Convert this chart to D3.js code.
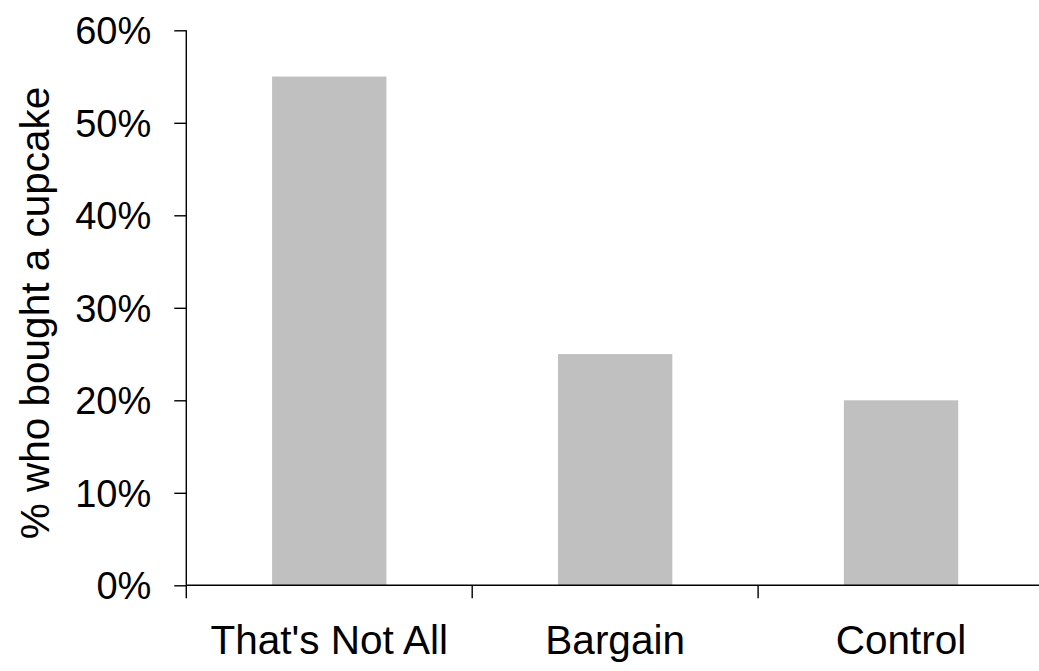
<!DOCTYPE html>
<html>
<head>
<meta charset="utf-8">
<script src="https://cdn.jsdelivr.net/npm/d3@7"></script>
<style>
  html, body { margin: 0; padding: 0; background: #fff; }
  svg { display: block; font-family: "Liberation Sans", Arial, sans-serif; }
</style>
</head>
<body>
<svg id="chart" width="1039" height="671"></svg>
<script>
// Share of shoppers buying a cupcake under each sales pitch
const conditions = ["That's Not All", "Bargain", "Control"];
const boughtShare = [0.55, 0.25, 0.20];
const yTicks = [0, 0.1, 0.2, 0.3, 0.4, 0.5, 0.6];
const yTitle = "% who bought a cupcake";

const svg = d3.select("#chart");
const W = 1039, H = 671;
const plotLeft = 186.3, plotTop = 30.3, plotBottom = 585.3, plotRight = 1044;

const x = d3.scaleBand()
  .domain(conditions)
  .range([plotLeft, plotRight])
  .paddingInner(0.6)
  .paddingOuter(0.3);

const y = d3.scaleLinear()
  .domain([0, 0.6])
  .range([plotBottom, plotTop]);

// bars
svg.append("g")
  .selectAll("rect")
  .data(conditions.map((c, i) => ({ c, v: boughtShare[i] })))
  .join("rect")
  .attr("x", d => x(d.c))
  .attr("width", x.bandwidth())
  .attr("y", d => y(d.v))
  .attr("height", d => y(0) - y(d.v))
  .attr("fill", "#c0c0c0");

// y axis
const yAxis = svg.append("g")
  .attr("transform", `translate(${plotLeft},0)`)
  .call(d3.axisLeft(y).tickValues(yTicks).tickFormat(d3.format(".0%")).tickSize(12).tickPadding(23));
yAxis.select(".domain").attr("d", `M0,${plotTop}V${plotBottom}`).attr("stroke", "#000").attr("stroke-width", 1.4);
yAxis.selectAll(".tick line").attr("stroke", "#000").attr("stroke-width", 1.4);
yAxis.selectAll(".tick text")
  .attr("fill", "#000")
  .attr("font-size", 38)
  .attr("font-family", "Liberation Sans, Arial, sans-serif")
  .attr("dy", "0.35em");

// x axis: ticks sit on category boundaries, labels centred under bars
const boundaries = d3.range(conditions.length + 1)
  .map(i => plotLeft + i * x.step());
const xAxis = svg.append("g");
xAxis.append("line")
  .attr("x1", plotLeft).attr("x2", W)
  .attr("y1", plotBottom).attr("y2", plotBottom)
  .attr("stroke", "#000").attr("stroke-width", 1.4);
xAxis.selectAll("line.tk")
  .data(boundaries)
  .join("line")
  .attr("class", "tk")
  .attr("x1", d => d).attr("x2", d => d)
  .attr("y1", plotBottom).attr("y2", plotBottom + 13)
  .attr("stroke", "#000").attr("stroke-width", 1.4);
xAxis.selectAll("text")
  .data(conditions)
  .join("text")
  .attr("x", d => x(d) + x.bandwidth() / 2)
  .attr("y", 654)
  .attr("text-anchor", "middle")
  .attr("font-size", 40.5)
  .attr("fill", "#000")
  .text(d => d);

// y title
svg.append("text")
  .attr("transform", `translate(49,313) rotate(-90)`)
  .attr("text-anchor", "middle")
  .attr("font-size", 40.5)
  .attr("fill", "#000")
  .text(yTitle);
</script>
</body>
</html>
